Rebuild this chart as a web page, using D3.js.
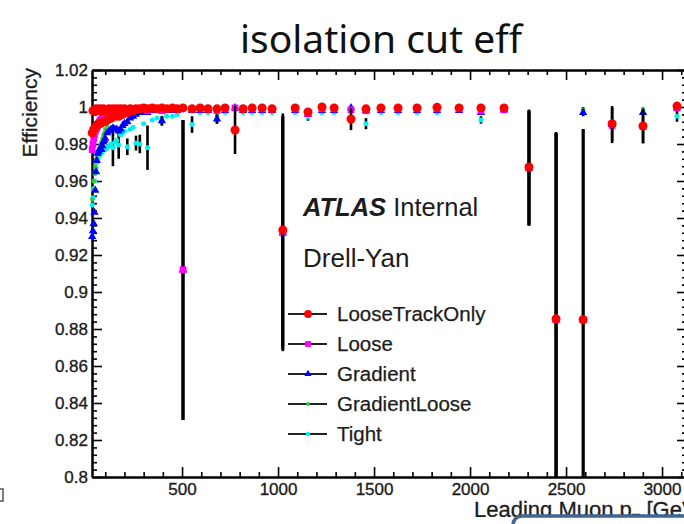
<!DOCTYPE html>
<html>
<head>
<meta charset="utf-8">
<script src="https://cdn.jsdelivr.net/npm/d3@7/dist/d3.min.js"></script>
<style>
  html, body { margin: 0; padding: 0; background: #fff; }
  svg { display: block; }
</style>
</head>
<body>
<svg id="chart" width="684" height="524"></svg>
<script>
// Leading-muon pT bin centres [GeV]
const pt = [32,36,40,44,48,52,56,60,65,70,
            75,80,85,90,95,100,110,120,130,140,
            150,160,170,180,190,200,215,230,245,260,
            280,300,320,345,370,395,420,450,475,505,
            552,594,635,682,724,776,818,865,917,969,
            1025,1089,1156,1229,1292,1380,1458,1536,1625,1724,
            1828,1943,2057,2177,2307,2448,2589,2740,2901,3078];

// Isolation efficiency per working point
const effLooseTrackOnly = [0.986,0.998,0.988,0.998,0.989,0.999,0.990,0.998,0.991,0.999,
  0.991,0.998,0.992,0.999,0.992,0.998,0.993,0.999,0.994,0.999,
  0.995,0.999,0.995,0.999,0.996,0.999,0.997,0.999,0.998,0.999,
  0.999,0.9995,0.999,0.9995,0.999,0.9995,0.999,0.9995,0.999,0.9995,
  0.999,0.9995,0.999,0.999,0.9995,0.9876,0.999,0.9995,0.9995,0.999,
  0.9335,0.9995,0.9973,1.0,0.9995,0.9935,0.999,0.9995,0.9995,0.9995,
  0.9998,0.9995,0.9995,0.9995,0.9676,0.8855,0.885,0.991,0.9897,1.0005];
const errLooseTrackOnly = [0,0,0,0,0,0,0,0,0,0,
  0,0,0,0,0,0,0,0,0,0,
  0,0,0,0,0,0,0,0,0,0,
  0,0,0,0,0,0,0,0,0,0,
  0,0,0,0,0,0.013,0,0,0,0,
  0.063,0,0.001,0,0,0.006,0,0,0,0,
  0,0,0,0,0.031,0.101,0.103,0.0095,0.0092,0];

const effLoose = [0.977,0.980,0.983,0.985,0.987,0.988,0.989,0.990,0.991,0.992,
  0.993,0.993,0.994,0.994,0.995,0.995,0.996,0.996,0.997,0.997,
  0.997,0.997,0.998,0.998,0.998,0.998,0.998,0.998,0.999,0.999,
  0.999,0.999,0.998,0.999,0.999,0.998,0.999,0.999,0.999,0.912,
  0.999,0.999,0.999,0.998,0.999,0.9995,0.999,0.999,0.999,0.999,
  0.932,0.999,0.9965,0.999,0.999,0.9985,0.998,0.999,0.999,0.999,
  0.999,0.999,0.998,0.9985,0.967,0.885,0.885,0.990,0.9895,0.9995];
const errLoose = [0,0,0,0,0,0,0,0,0,0,
  0,0,0,0,0,0,0,0,0,0,
  0,0,0,0,0,0,0,0,0,0,
  0,0,0,0,0,0,0,0,0,0.081,
  0,0,0,0,0,0,0,0,0,0,
  0.063,0,0,0,0,0,0,0,0,0,
  0,0,0,0,0.031,0.101,0.103,0,0,0];

const effGradient = [0.930,0.933,0.937,0.943,0.955,0.965,0.971,0.975,0.976,0.977,
  0.977,0.977,0.979,0.981,0.982,0.983,0.986,0.987,0.988,0.9886,
  0.988,0.988,0.987,0.988,0.990,0.991,0.992,0.994,0.995,0.996,
  0.997,0.997,0.997,0.998,0.998,0.9925,0.998,0.998,0.998,0.912,
  0.998,0.998,0.998,0.9935,0.998,0.9995,0.998,0.998,0.998,0.998,
  0.932,0.998,0.996,0.998,0.998,0.9995,0.998,0.998,0.998,0.998,
  0.998,0.998,0.997,0.9985,0.967,0.885,0.997,0.9905,0.997,0.9995];
const errGradient = [0,0,0,0,0,0,0,0,0,0,
  0,0,0,0,0,0,0,0,0,0,
  0,0,0,0,0,0,0,0,0,0,
  0,0,0,0,0,0.0025,0,0,0,0.081,
  0,0,0,0.0025,0,0,0,0,0,0,
  0.063,0,0,0,0,0,0,0,0,0,
  0,0,0,0,0.031,0.101,0.002,0,0,0];

const effGradientLoose = [0.950,0.955,0.960,0.964,0.968,0.971,0.973,0.975,0.976,0.978,
  0.979,0.981,0.983,0.985,0.986,0.988,0.990,0.992,0.9925,0.993,
  0.994,0.994,0.995,0.995,0.996,0.996,0.996,0.997,0.997,0.998,
  0.998,0.998,0.998,0.998,0.998,0.994,0.998,0.998,0.998,0.912,
  0.998,0.999,0.998,0.995,0.998,0.9995,0.998,0.999,0.998,0.998,
  0.932,0.998,0.997,0.998,0.998,0.9985,0.998,0.998,0.998,0.998,
  0.998,0.998,0.997,0.998,0.967,0.885,0.9985,0.991,0.9989,1.0];
const errGradientLoose = [0,0,0,0,0,0,0,0,0,0,
  0,0,0,0,0,0,0,0,0,0,
  0,0,0,0,0,0,0,0,0,0,
  0,0,0,0,0,0,0,0,0,0.081,
  0,0,0,0,0,0,0,0,0,0,
  0.063,0,0,0,0,0,0,0,0,0,
  0,0,0,0,0.031,0.101,0.0015,0,0,0];

const effTight = [0.947,0.951,0.956,0.960,0.964,0.967,0.970,0.972,0.973,0.974,
  0.975,0.975,0.976,0.977,0.977,0.977,0.978,0.979,0.980,0.978,
  0.981,0.982,0.9795,0.985,0.986,0.987,0.9785,0.988,0.989,0.9805,
  0.980,0.991,0.978,0.993,0.994,0.9925,0.995,0.995,0.996,0.912,
  0.9905,0.997,0.997,0.9935,0.997,0.9995,0.997,0.997,0.997,0.997,
  0.931,0.997,0.9946,0.997,0.997,0.998,0.991,0.997,0.997,0.997,
  0.997,0.998,0.993,0.998,0.967,0.885,0.885,0.990,0.9895,0.995];
const errTight = [0,0,0,0,0,0,0,0,0,0,
  0,0,0,0,0,0,0,0,0,0.010,
  0,0,0.0075,0,0,0,0.0045,0,0,0.004,
  0.005,0,0.012,0,0,0.0025,0,0,0,0.081,
  0.0045,0,0,0.0025,0,0,0,0,0,0,
  0.063,0,0.002,0,0,0,0.003,0,0,0,
  0,0,0.002,0,0.031,0.101,0.103,0.0095,0.0092,0.003];

// Axis ticks
const xTicks = [500,1000,1500,2000,2500,3000];
const yTicks = [0.80,0.82,0.84,0.86,0.88,0.90,0.92,0.94,0.96,0.98,1.00,1.02];

// Series in drawing order (bottom to top)
const series = [
  { name: "Tight",          color: "#00f0f0", symbol: d3.symbolCircle,   size: 20, eff: effTight,          err: errTight },
  { name: "GradientLoose",  color: "#33cc33", symbol: d3.symbolCircle,   size: 15, eff: effGradientLoose,  err: errGradientLoose },
  { name: "Gradient",       color: "#0000ff", symbol: d3.symbolTriangle, size: 30, eff: effGradient,       err: errGradient },
  { name: "Loose",          color: "#ff00ff", symbol: d3.symbolSquare,   size: 46, eff: effLoose,          err: errLoose },
  { name: "LooseTrackOnly", color: "#ff0000", symbol: d3.symbolCircle,   size: 64, eff: effLooseTrackOnly, err: errLooseTrackOnly }
];
const legendOrder = ["LooseTrackOnly","Loose","Gradient","GradientLoose","Tight"];

const W = 684, H = 524;
const frame = { left: 92, right: 687, top: 70, bottom: 477 };
const x = d3.scaleLinear().domain([31, 3130]).range([frame.left, frame.right]);
const y = d3.scaleLinear().domain([0.8, 1.02]).range([frame.bottom, frame.top]);

const svg = d3.select("#chart");
const defs = svg.append("defs");
defs.append("clipPath").attr("id", "pageclip")
  .append("rect").attr("x", 0).attr("y", 0).attr("width", W).attr("height", 517);
defs.append("clipPath").attr("id", "plotclip")
  .append("rect").attr("x", frame.left - 5).attr("y", frame.top)
  .attr("width", frame.right - frame.left + 10).attr("height", frame.bottom - frame.top);

svg.append("rect").attr("width", W).attr("height", H).attr("fill", "#fff");

const page = svg.append("g").attr("clip-path", "url(#pageclip)");
const FONT = "'Liberation Sans', Arial, Helvetica, sans-serif";
const INK = "#1c1c1c";

// Title
page.append("text")
  .attr("x", 381).attr("y", 53)
  .attr("text-anchor", "middle")
  .attr("font-family", "'Noto Sans', 'Open Sans', sans-serif")
  .attr("font-size", 39)
  .attr("fill", "#111")
  .text("isolation cut eff");

// Minor ticks
const xMinor = d3.range(100, 3101, 100).filter(v => v % 500 !== 0);
const yMinor = d3.range(0, 56).map(i => 0.8 + i * 0.004).filter(v => Math.abs((v - 0.8) / 0.02 - Math.round((v - 0.8) / 0.02)) > 1e-6);

function styleAxis(g) {
  g.selectAll("path.domain").attr("stroke", "#000").attr("stroke-width", 2);
  g.selectAll(".tick line").attr("stroke", "#000").attr("stroke-width", 1.6);
  g.selectAll(".tick text").attr("font-family", FONT).attr("font-size", 17).attr("fill", INK)
    .attr("stroke", INK).attr("stroke-width", 0.35);
}
const yFmt = v => String(+v.toFixed(2));

// Bottom axis
page.append("g").attr("transform", `translate(0,${frame.bottom})`)
  .call(d3.axisBottom(x).tickValues(xMinor).tickSize(-5).tickSizeOuter(0).tickFormat(""))
  .call(styleAxis);
page.append("g").attr("transform", `translate(0,${frame.bottom})`)
  .call(d3.axisBottom(x).tickValues(xTicks).tickSize(-10).tickSizeOuter(0).tickPadding(6).tickFormat(d3.format("d")))
  .call(styleAxis);
// Top axis
page.append("g").attr("transform", `translate(0,${frame.top})`)
  .call(d3.axisTop(x).tickValues(xMinor).tickSize(-5).tickSizeOuter(0).tickFormat(""))
  .call(styleAxis);
page.append("g").attr("transform", `translate(0,${frame.top})`)
  .call(d3.axisTop(x).tickValues(xTicks).tickSize(-10).tickSizeOuter(0).tickFormat(""))
  .call(styleAxis);
// Left axis
page.append("g").attr("transform", `translate(${frame.left},0)`)
  .call(d3.axisLeft(y).tickValues(yMinor).tickSize(-5).tickSizeOuter(0).tickFormat(""))
  .call(styleAxis);
page.append("g").attr("transform", `translate(${frame.left},0)`)
  .call(d3.axisLeft(y).tickValues(yTicks).tickSize(-10).tickSizeOuter(0).tickPadding(4).tickFormat(yFmt))
  .call(styleAxis);
// Right axis
page.append("g").attr("transform", `translate(${frame.right},0)`)
  .call(d3.axisRight(y).tickValues(yMinor).tickSize(-5).tickSizeOuter(0).tickFormat(""))
  .call(styleAxis);
page.append("g").attr("transform", `translate(${frame.right},0)`)
  .call(d3.axisRight(y).tickValues(yTicks).tickSize(-10).tickSizeOuter(0).tickFormat(""))
  .call(styleAxis);

// Axis titles
page.append("text")
  .attr("transform", "translate(37,68) rotate(-90)")
  .attr("text-anchor", "end")
  .attr("font-family", FONT).attr("font-size", 21).attr("fill", INK)
  .attr("stroke", INK).attr("stroke-width", 0.3)
  .text("Efficiency");

const xt = page.append("text")
  .attr("x", 474).attr("y", 517)
  .attr("font-family", FONT).attr("font-size", 22).attr("fill", INK)
  .attr("stroke", INK).attr("stroke-width", 0.3);
xt.append("tspan").text("Leading Muon p");
xt.append("tspan").attr("dy", 7).attr("font-size", 14).text("T");
xt.append("tspan").attr("dy", -7).text(" [GeV]");

// Data: error bars then markers, series by series
const plot = page.append("g").attr("clip-path", "url(#plotclip)");
series.forEach(s => {
  const pts = pt.map((p, i) => ({ p, v: s.eff[i], e: s.err[i] }));
  const g = plot.append("g");
  g.selectAll("line.err").data(pts.filter(d => d.e > 0)).join("line")
    .attr("class", "err")
    .attr("x1", d => x(d.p)).attr("x2", d => x(d.p))
    .attr("y1", d => y(d.v - d.e)).attr("y2", d => y(d.v + d.e))
    .attr("stroke", "#000").attr("stroke-width", 2.6);
  g.selectAll("path.mk").data(pts).join("path")
    .attr("class", "mk")
    .attr("transform", d => `translate(${x(d.p)},${y(d.v)})`)
    .attr("d", d3.symbol().type(s.symbol).size(s.size))
    .attr("fill", s.color);
});

// ATLAS label and sample
const lab = page.append("text").attr("x", 303).attr("y", 216)
  .attr("font-family", FONT).attr("font-size", 25.5).attr("fill", INK);
lab.append("tspan").attr("font-weight", "bold").attr("font-style", "italic").text("ATLAS");
lab.append("tspan").text(" Internal");
page.append("text").attr("x", 303).attr("y", 267)
  .attr("font-family", FONT).attr("font-size", 26).attr("fill", INK)
  .text("Drell-Yan");

// Legend
const legY = d3.scalePoint().domain(legendOrder).range([314, 434]);
const leg = page.append("g");
legendOrder.forEach(name => {
  const s = series.find(d => d.name === name);
  const cy = legY(name);
  leg.append("line").attr("x1", 288).attr("x2", 327).attr("y1", cy).attr("y2", cy)
    .attr("stroke", "#222").attr("stroke-width", 2);
  leg.append("path").attr("transform", `translate(308,${cy})`)
    .attr("d", d3.symbol().type(s.symbol).size(s.size * 0.75)).attr("fill", s.color);
  leg.append("text").attr("x", 337).attr("y", cy).attr("dy", "0.36em")
    .attr("font-family", FONT).attr("font-size", 20.5).attr("fill", INK)
    .attr("stroke", INK).attr("stroke-width", 0.25)
    .text(name);
});

// Edge fragment at the far left
svg.append("path").attr("d", "M0,489 H3 V501 H0")
  .attr("fill", "none").attr("stroke", "#555").attr("stroke-width", 1.5);

// Overlapping rounded text box at the bottom right
svg.append("rect").attr("x", 513).attr("y", 516).attr("width", 210).attr("height", 40)
  .attr("rx", 9).attr("fill", "#fff").attr("stroke", "#3f6594").attr("stroke-width", 3.5);
</script>
</body>
</html>
